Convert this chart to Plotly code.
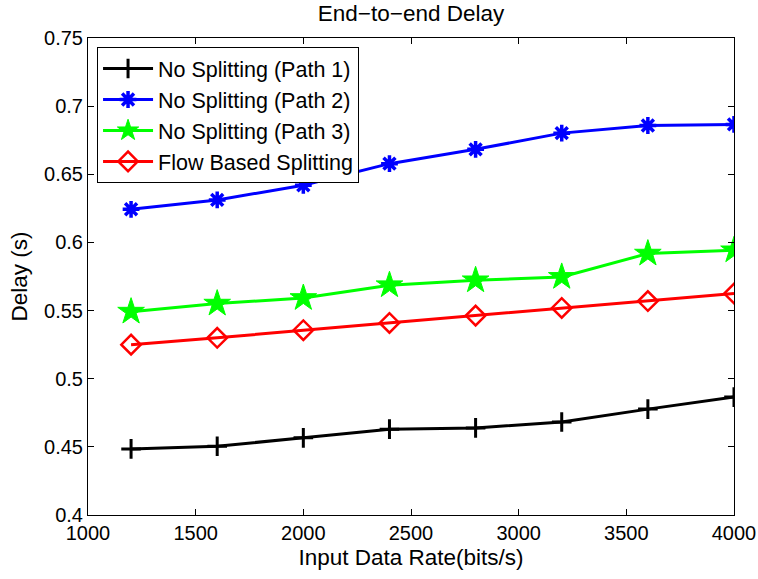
import plotly.graph_objects as go

rates = [1200, 1600, 2000, 2400, 2800, 3200, 3600, 4000]
path1 = [0.4485, 0.4505, 0.4566, 0.4630, 0.4639, 0.4682, 0.4777, 0.4865]
path2 = [0.6243, 0.6312, 0.6419, 0.6578, 0.6683, 0.6802, 0.6858, 0.6866]
path3 = [0.5492, 0.5551, 0.5592, 0.5686, 0.5722, 0.5747, 0.5918, 0.5942]
flow = [0.5250, 0.5300, 0.5356, 0.5409, 0.5463, 0.5519, 0.5570, 0.5625]

names = ["No Splitting (Path 1)", "No Splitting (Path 2)",
         "No Splitting (Path 3)", "Flow Based Splitting"]
series = [path1, path2, path3, flow]
colors = ["#000000", "#0000ff", "#00ff00", "#ff0000"]
symbols = ["cross-thin-open", "asterisk-open", "star", "diamond-open"]
msizes = [14, 14, 20, 15]
mlw = [3, 3.5, 1, 2.5]

FONT = "Liberation Sans, Arial, sans-serif"

fig = go.Figure()
for name, ys, c, s, ms, lw in zip(names, series, colors, symbols, msizes, mlw):
    fig.add_trace(go.Scatter(
        x=rates, y=ys, name=name, mode="lines+markers",
        line=dict(color=c, width=3),
        marker=dict(symbol=s, size=ms, color=c, line=dict(color=c, width=lw)),
    ))

axis_common = dict(
    showline=True, linecolor="black", linewidth=1, mirror="ticks",
    ticks="inside", ticklen=6, tickcolor="black", tickwidth=1,
    showgrid=False, zeroline=False, automargin=False,
    tickfont=dict(family=FONT, size=20, color="black"),
)

fig.update_layout(
    width=758, height=579,
    margin=dict(l=88, r=24, t=38, b=64),
    paper_bgcolor="white", plot_bgcolor="white",
    title=dict(text="End\u2212to\u2212end Delay", x=0.5, xref="paper",
               xanchor="center", y=0.978, yanchor="middle",
               font=dict(family=FONT, size=22.5, color="black")),
    xaxis=dict(range=[1000, 4000], tickvals=[1000, 1500, 2000, 2500, 3000, 3500, 4000],
               title=dict(text="Input Data Rate(bits/s)", standoff=6,
                          font=dict(family=FONT, size=22.5, color="black")),
               **axis_common),
    yaxis=dict(range=[0.4, 0.75], tickvals=[0.4, 0.45, 0.5, 0.55, 0.6, 0.65, 0.7, 0.75],
               ticktext=["0.4", "0.45", "0.5", "0.55", "0.6", "0.65", "0.7", "0.75"],
               title=dict(text="Delay (s)", standoff=10,
                          font=dict(family=FONT, size=22.5, color="black")),
               **axis_common),
    legend=dict(x=0.014, y=0.981, xanchor="left", yanchor="top",
                bgcolor="white", bordercolor="black", borderwidth=1,
                font=dict(family=FONT, size=21.5, color="black"),
                tracegroupgap=0, itemwidth=50),
    showlegend=True,
)

fig.write_html("out.html")
